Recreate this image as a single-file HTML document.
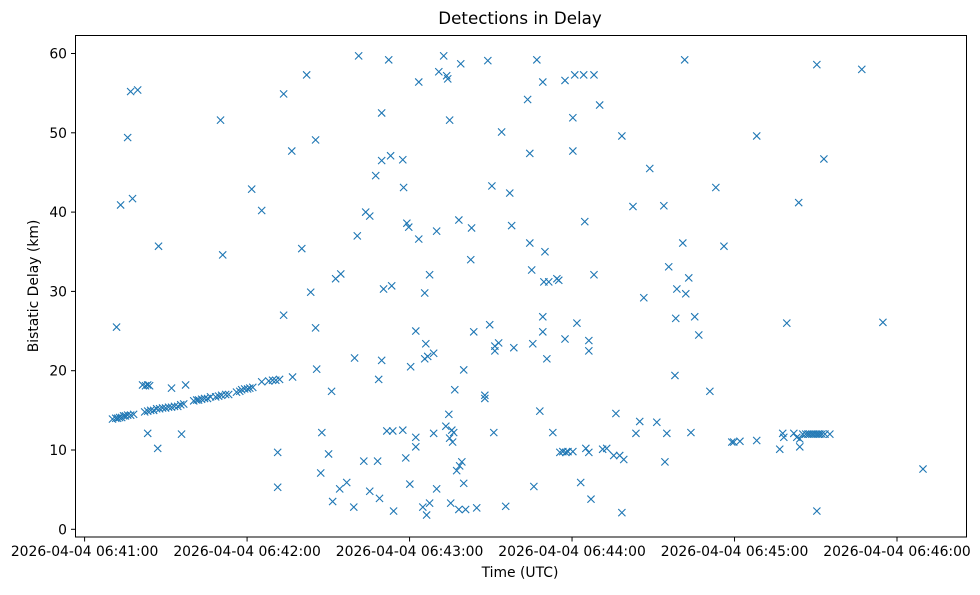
<!DOCTYPE html>
<html><head><meta charset="utf-8"><style>
html,body{margin:0;padding:0;background:#fff;}
svg text{font-family:"DejaVu Sans","Liberation Sans",sans-serif;fill:#000;}
</style></head><body>
<svg id="chart" width="980" height="590" xmlns="http://www.w3.org/2000/svg">
<rect width="980" height="590" fill="#fff"/>
<text x="520" y="24" font-size="16.7" text-anchor="middle">Detections in Delay</text>
<text x="520" y="577" font-size="13.9" text-anchor="middle">Time (UTC)</text>
<text transform="translate(38,286) rotate(-90)" font-size="13.9" text-anchor="middle">Bistatic Delay (km)</text>
<g id="ticks"></g>
<g id="marks"></g>
<rect x="75.5" y="35.5" width="891" height="501.5" fill="none" stroke="#000" stroke-width="1"/>
</svg>
<script>
// seconds after 06:41:00
const times = [
10.3,11.5,12.2,12.9,13.7,14.4,15.1,15.9,17.0,18.1,
21.4,22.5,23.3,24.0,
22.2,23.3,24.4,25.5,26.6,27.7,28.8,29.9,31.0,32.1,33.2,34.4,35.5,36.6,
40.3,41.4,42.1,43.2,44.3,45.4,46.5,48.4,49.5,50.6,52.1,53.2,56.1,57.3,58.0,59.1,60.2,61.0,62.1,
65.4,68.0,69.4,70.6,72.0,
265.2,266.3,267.1,267.8,268.6,269.3,270.1,270.8,271.5,272.3,273.4,275.2,
11.8,13.3,15.9,17.0,19.6,17.7,27.3,23.3,27.0,32.1,35.8,37.3,50.2,51.0,61.7,65.4,71.3,71.3,73.5,73.5,
76.5,76.8,80.2,82.0,83.5,85.3,85.3,85.7,87.6,87.2,90.1,91.6,92.7,94.6,91.2,94.2,96.8,99.7,100.7,99.4,
101.2,103.1,103.8,105.3,105.3,107.5,108.2,108.6,108.9,109.7,109.7,109.7,110.4,112.3,111.6,113.0,113.4,113.8,114.1,117.5,
117.5,117.8,118.6,119.0,119.7,120.1,120.4,122.3,122.3,122.3,123.4,123.4,124.9,125.6,125.6,126.3,126.0,126.7,127.4,127.4,
128.9,128.9,130.0,130.0,130.8,132.6,133.4,133.7,134.1,134.5,134.8,134.8,135.2,135.6,135.9,136.3,136.7,137.4,138.2,138.2,
138.5,138.9,139.3,140.0,140.0,140.7,142.6,142.9,143.7,144.8,147.8,147.8,148.9,149.6,150.4,151.1,151.5,151.5,152.9,154.0,
155.5,157.0,157.7,158.5,163.6,164.4,164.4,165.1,165.5,165.9,167.0,168.1,169.2,169.2,169.2,169.6,170.0,170.7,171.4,172.9,
174.4,175.1,175.5,176.6,177.4,177.4,177.7,178.5,180.3,180.3,180.3,181.0,181.8,183.2,184.3,184.7,185.1,186.2,186.2,186.2,
187.0,188.1,188.1,190.2,191.3,192.8,195.4,196.2,197.6,198.4,198.4,199.1,202.5,203.6,205.0,206.5,208.7,211.3,213.9,214.3,
215.0,215.7,218.0,218.3,218.7,220.9,221.6,222.0,223.1,223.9,225.3,226.8,230.9,233.1,236.1,239.0,239.7,242.0,248.2,248.2,
256.7,257.8,258.2,259.3,261.9,263.0,263.7,264.1,264.1,270.4,270.4,273.0,287.0,294.8,309.6
];
const delays = [
13.9,14.0,14.0,14.1,14.1,14.3,14.3,14.4,14.4,14.5,
18.2,18.1,18.2,18.1,
14.8,14.9,15.0,15.0,15.2,15.2,15.3,15.3,15.4,15.4,15.5,15.5,15.7,15.8,
16.2,16.3,16.3,16.4,16.5,16.5,16.7,16.7,16.8,16.9,17.0,17.0,17.3,17.4,17.6,17.7,17.7,17.8,17.9,
18.6,18.7,18.8,18.8,18.9,
12.0,12.0,12.0,12.0,12.0,12.0,12.0,12.0,12.0,12.0,12.0,12.0,
25.5,40.9,49.4,55.2,55.4,41.7,35.7,12.1,10.2,17.8,12.0,18.2,51.6,34.6,42.9,40.2,9.7,5.3,27.0,54.9,
47.7,19.2,35.4,57.3,29.9,49.1,25.4,20.2,12.2,7.1,9.5,3.5,31.6,32.2,17.4,5.1,5.9,21.6,37.0,2.8,
59.7,8.6,40.0,39.5,4.8,44.6,8.6,18.9,3.9,52.5,46.5,21.3,30.3,59.2,12.4,47.1,30.7,12.4,2.3,46.6,
12.5,43.1,9.0,38.6,38.1,5.7,20.5,25.0,11.6,10.4,56.4,36.6,2.8,29.8,21.5,1.8,23.4,21.8,32.1,3.3,
22.2,12.1,37.6,5.1,57.7,59.7,13.0,57.2,56.8,14.5,51.6,11.5,3.3,12.5,11.0,12.2,17.6,7.4,39.0,2.5,
8.0,58.7,8.5,20.1,5.8,2.5,34.0,38.0,24.9,2.7,16.9,16.5,59.1,25.8,43.3,12.2,23.1,22.5,23.5,50.1,
2.9,42.4,38.3,22.9,54.2,47.4,36.1,32.7,23.4,5.4,59.2,14.9,56.4,26.8,24.9,31.2,35.0,21.5,31.2,12.2,
31.6,31.4,9.7,9.8,56.6,24.0,9.7,9.8,9.8,47.7,51.9,57.3,26.0,5.9,57.3,38.8,10.2,9.7,23.8,22.5,
3.8,57.3,32.1,53.5,10.1,10.2,9.3,14.6,9.3,49.6,2.1,8.8,40.7,12.1,13.6,29.2,45.5,13.5,40.8,8.5,
12.1,33.1,19.4,26.6,30.3,36.1,59.2,29.7,31.7,12.2,26.8,24.5,17.4,43.1,35.7,11.0,11.0,11.1,49.6,11.2,
10.1,12.1,11.6,26.0,12.1,11.6,41.2,11.4,10.4,2.3,58.6,46.7,58.0,26.1,7.6
];
const xTickLabels = ["2026-04-04 06:41:00","2026-04-04 06:42:00","2026-04-04 06:43:00","2026-04-04 06:44:00","2026-04-04 06:45:00","2026-04-04 06:46:00"];
const xTickValues = [0,60,120,180,240,300];
const yTickValues = [0,10,20,30,40,50,60];

const NS="http://www.w3.org/2000/svg";
function xScale(s){return 84.6+s*2.708;}
function yScale(v){return 529.3-v*7.93;}
const tg=document.getElementById('ticks');
xTickValues.forEach((t,i)=>{
  const x=xScale(t);
  const l=document.createElementNS(NS,'line');
  l.setAttribute('x1',x);l.setAttribute('x2',x);l.setAttribute('y1',537);l.setAttribute('y2',541.5);l.setAttribute('stroke','#000');
  
  
  tg.appendChild(l);
  const tx=document.createElementNS(NS,'text');
  tx.setAttribute('x',x);tx.setAttribute('y',556);tx.setAttribute('font-size','13.9');tx.setAttribute('text-anchor','middle');
  tx.textContent=xTickLabels[i];
  
  
  tg.appendChild(tx);
});
yTickValues.forEach(v=>{
  const y=yScale(v);
  const l=document.createElementNS(NS,'line');
  l.setAttribute('x1',71);l.setAttribute('x2',75.5);l.setAttribute('y1',y);l.setAttribute('y2',y);l.setAttribute('stroke','#000');
  
  
  tg.appendChild(l);
  const tx=document.createElementNS(NS,'text');
  tx.setAttribute('x',67);tx.setAttribute('y',y+5);tx.setAttribute('font-size','13.9');tx.setAttribute('text-anchor','end');
  tx.textContent=String(v);
  
  
  tg.appendChild(tx);
});
const mg=document.getElementById('marks');
times.forEach((t,i)=>{
  const x=xScale(t), y=yScale(delays[i]), r=3.6;
  const p=document.createElementNS(NS,'path');
  p.setAttribute('d',`M${x-r},${y-r}L${x+r},${y+r}M${x-r},${y+r}L${x+r},${y-r}`);
  p.setAttribute('stroke','#1f77b4');p.setAttribute('stroke-width','1.1');p.setAttribute('fill','none');
  
  
  mg.appendChild(p);
});
</script>
</body></html>
